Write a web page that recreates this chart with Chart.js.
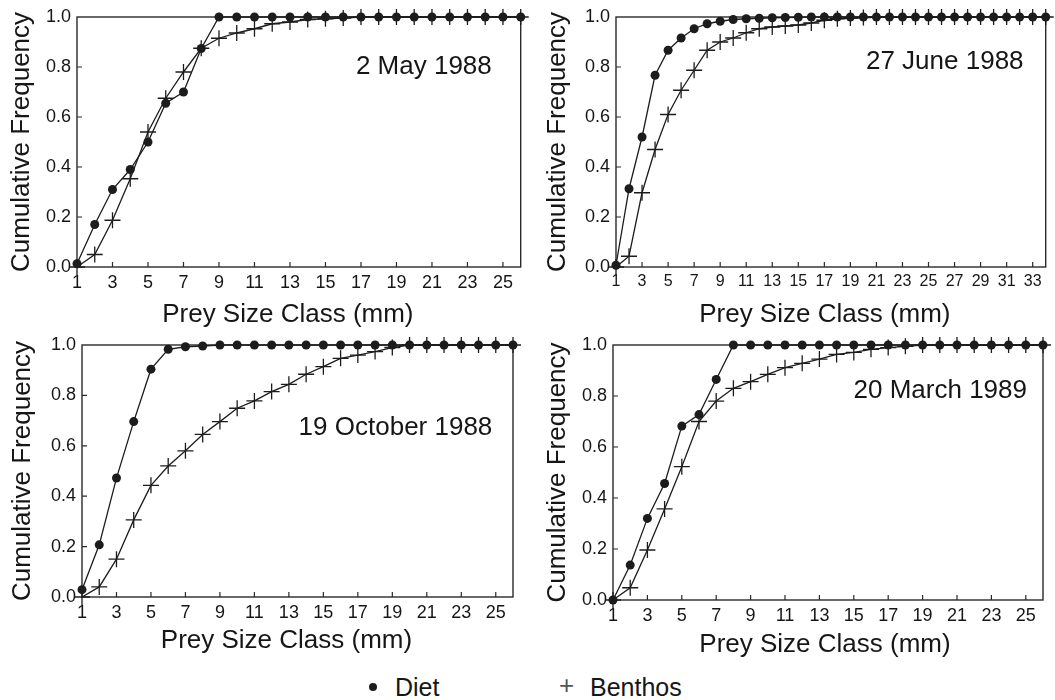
<!DOCTYPE html>
<html>
<head>
<meta charset="utf-8">
<script src="https://cdn.jsdelivr.net/npm/chart.js@4.4.0/dist/chart.umd.min.js"></script>
<style>
  html, body { margin: 0; padding: 0; background: #fff; overflow: hidden; }
  body { width: 1055px; height: 700px; position: relative; font-family: "Liberation Sans", Arial, sans-serif; color: #161616; }
  canvas { position: absolute; }
  .legend { position: absolute; top: 672px; font-size: 25px; line-height: 30px; white-space: nowrap; }
  .dot { position: absolute; width: 8px; height: 8px; border-radius: 50%; background: #1c1c1c; top: 11px; }
  .plus { position: absolute; font-size: 26px; font-weight: 300; color: #555; top: -2px; }
</style>
</head>
<body>
<canvas id="may88" width="530" height="330" style="left:0;top:0"></canvas>
<canvas id="jun88" width="515" height="330" style="left:540px;top:0"></canvas>
<canvas id="oct88" width="530" height="340" style="left:0;top:320px"></canvas>
<canvas id="mar89" width="515" height="340" style="left:540px;top:320px"></canvas>

<div class="legend" style="left:369px"><span class="dot" style="left:0"></span><span style="margin-left:26px">Diet</span></div>
<div class="legend" style="left:559px"><span class="plus" style="left:0">+</span><span style="margin-left:31px">Benthos</span></div>

<script>
// --- dados ---
const SIZES_26 = [1, 2, 3, 4, 5, 6, 7, 8, 9, 10, 11, 12, 13, 14, 15, 16, 17, 18, 19, 20, 21, 22, 23, 24, 25, 26];
const SIZES_34 = [1, 2, 3, 4, 5, 6, 7, 8, 9, 10, 11, 12, 13, 14, 15, 16, 17, 18, 19, 20, 21, 22, 23, 24, 25, 26, 27, 28, 29, 30, 31, 32, 33, 34];
const X_TICKS_26 = [1, 3, 5, 7, 9, 11, 13, 15, 17, 19, 21, 23, 25];
const X_TICKS_34 = [1, 3, 5, 7, 9, 11, 13, 15, 17, 19, 21, 23, 25, 27, 29, 31, 33];
const Y_TICKS = [0, 0.2, 0.4, 0.6, 0.8, 1.0];

// 2 May 1988
const may88Diet = [0.013, 0.17, 0.31, 0.39, 0.50, 0.655, 0.70, 0.874, 1, 1, 1, 1, 1, 1, 1, 1, 1, 1, 1, 1, 1, 1, 1, 1, 1, 1];
const may88Benthos = [0.0, 0.05, 0.187, 0.353, 0.54, 0.675, 0.78, 0.875, 0.915, 0.936, 0.953, 0.973, 0.98, 0.99, 0.993, 0.996, 1, 1, 1, 1, 1, 1, 1, 1, 1, 1];

// 27 June 1988
const jun88Diet = [0.007, 0.313, 0.52, 0.767, 0.867, 0.916, 0.953, 0.973, 0.983, 0.99, 0.993, 0.995, 0.997, 0.998, 0.999, 1, 1, 1, 1, 1, 1, 1, 1, 1, 1, 1, 1, 1, 1, 1, 1, 1, 1, 1];
const jun88Benthos = [0.0, 0.043, 0.297, 0.47, 0.61, 0.707, 0.787, 0.867, 0.90, 0.916, 0.937, 0.953, 0.96, 0.964, 0.968, 0.976, 0.987, 0.993, 0.996, 0.998, 1, 1, 1, 1, 1, 1, 1, 1, 1, 1, 1, 1, 1, 1];

// 19 October 1988
const oct88Diet = [0.029, 0.207, 0.472, 0.696, 0.904, 0.983, 0.993, 0.996, 1, 1, 1, 1, 1, 1, 1, 1, 1, 1, 1, 1, 1, 1, 1, 1, 1, 1];
const oct88Benthos = [0.0, 0.04, 0.15, 0.306, 0.443, 0.52, 0.58, 0.645, 0.696, 0.749, 0.778, 0.815, 0.844, 0.884, 0.914, 0.947, 0.96, 0.974, 0.99, 1, 1, 1, 1, 1, 1, 1];

// 20 March 1989
const mar89Diet = [0.0, 0.137, 0.32, 0.457, 0.682, 0.727, 0.865, 1, 1, 1, 1, 1, 1, 1, 1, 1, 1, 1, 1, 1, 1, 1, 1, 1, 1, 1];
const mar89Benthos = [0.0, 0.048, 0.196, 0.357, 0.523, 0.70, 0.78, 0.83, 0.856, 0.885, 0.911, 0.928, 0.945, 0.963, 0.971, 0.983, 0.99, 0.995, 1, 1, 1, 1, 1, 1, 1, 1];

const X_TITLE = 'Prey Size Class (mm)';
const Y_TITLE = 'Cumulative Frequency';
const INK = '#1c1c1c';
const TEXT = '#161616';
const FONT = '"Liberation Sans", Arial, sans-serif';

Chart.defaults.font.family = FONT;
Chart.defaults.color = TEXT;

// moldura + ticks para dentro
const framePlugin = {
    id: 'frame',
    beforeDatasetsDraw(chart) {
        const { ctx, chartArea: a, scales: { x, y } } = chart;
        ctx.save();
        ctx.strokeStyle = '#2a2a2a';
        ctx.lineWidth = 1.4;
        ctx.strokeRect(a.left, a.top, a.right - a.left, a.bottom - a.top);
        ctx.lineWidth = 1.2;
        ctx.beginPath();
        x.ticks.forEach(t => {
            if (t.value <= x.min) return;
            const px = x.getPixelForValue(t.value);
            ctx.moveTo(px, a.bottom);
            ctx.lineTo(px, a.bottom - 5);
        });
        y.ticks.forEach(t => {
            if (t.value <= 0 || t.value >= 1) return;
            const py = y.getPixelForValue(t.value);
            ctx.moveTo(a.left, py);
            ctx.lineTo(a.left + 5, py);
        });
        ctx.stroke();
        ctx.restore();
    }
};

// data da amostra dentro do gráfico
const dateLabelPlugin = {
    id: 'dateLabel',
    afterDatasetsDraw(chart, args, opts) {
        const { ctx, scales: { x, y } } = chart;
        ctx.save();
        ctx.font = '26px ' + FONT;
        ctx.fillStyle = TEXT;
        ctx.textAlign = 'right';
        ctx.textBaseline = 'middle';
        ctx.fillText(opts.text, x.getPixelForValue(opts.x), y.getPixelForValue(opts.y));
        ctx.restore();
    }
};

// título do eixo x desenhado à mão (nos painéis da esquerda ele fica um pouco deslocado)
const xTitlePlugin = {
    id: 'xTitle',
    afterDraw(chart, args, opts) {
        const { ctx, chartArea: a } = chart;
        ctx.save();
        ctx.font = '26px ' + FONT;
        ctx.fillStyle = TEXT;
        ctx.textAlign = 'center';
        ctx.textBaseline = 'middle';
        ctx.fillText(X_TITLE, (a.left + a.right) / 2 + opts.shift, a.bottom + opts.drop);
        ctx.restore();
    }
};

function drawPanel(id, o) {
    const pts = vals => o.sizes.map((s, i) => ({ x: s, y: vals[i] }));
    new Chart(document.getElementById(id), {
        type: 'line',
        data: {
            datasets: [{
                label: 'Diet',
                data: pts(o.diet),
                borderColor: INK,
                backgroundColor: INK,
                borderWidth: 1.3,
                pointStyle: 'circle',
                pointRadius: 4.5,
                pointBorderWidth: 0,
                clip: false
            }, {
                label: 'Benthos',
                data: pts(o.benthos),
                borderColor: INK,
                backgroundColor: INK,
                borderWidth: 1.3,
                pointStyle: 'cross',
                pointRadius: 8,
                pointBorderWidth: 1.3,
                clip: false
            }]
        },
        options: {
            responsive: false,
            animation: false,
            layout: { padding: o.pad },
            plugins: {
                legend: { display: false },
                tooltip: { enabled: false },
                dateLabel: o.label,
                xTitle: o.xTitle
            },
            scales: {
                x: {
                    type: 'linear',
                    min: 1,
                    max: o.xMax,
                    afterBuildTicks: s => { s.ticks = o.xTicks.map(v => ({ value: v })); },
                    afterFit: s => { s.height = o.xAxisH; },
                    grid: { display: false, drawTicks: false },
                    border: { display: false },
                    ticks: { font: { size: o.tickSize }, padding: 5, autoSkip: false, maxRotation: 0, color: TEXT },
                    title: { display: false }
                },
                y: {
                    min: 0,
                    max: 1,
                    afterBuildTicks: s => { s.ticks = Y_TICKS.map(v => ({ value: v })); },
                    afterFit: s => { s.width = o.yAxisW; },
                    grid: { display: false, drawTicks: false },
                    border: { display: false },
                    ticks: { font: { size: 18 }, padding: 6, color: TEXT, callback: v => v.toFixed(1) },
                    title: { display: true, text: Y_TITLE, font: { size: 26 }, padding: { top: o.yTitlePad, bottom: 0 }, color: TEXT }
                }
            }
        },
        plugins: [framePlugin, dateLabelPlugin, xTitlePlugin]
    });
}

drawPanel('may88', {
    sizes: SIZES_26, diet: may88Diet, benthos: may88Benthos,
    xMax: 26, xTicks: X_TICKS_26, tickSize: 18,
    pad: { top: 17, right: 9, left: 0, bottom: 0 },
    yAxisW: 77, xAxisH: 63, yTitlePad: 6,
    xTitle: { shift: -11, drop: 48 },
    label: { text: '2 May 1988', x: 24.37, y: 0.8 }
});

drawPanel('jun88', {
    sizes: SIZES_34, diet: jun88Diet, benthos: jun88Benthos,
    xMax: 34, xTicks: X_TICKS_34, tickSize: 16,
    pad: { top: 17, right: 2, left: 0, bottom: 0 },
    yAxisW: 76, xAxisH: 63, yTitlePad: 2,
    xTitle: { shift: -6, drop: 48 },
    label: { text: '27 June 1988', x: 32.3, y: 0.82 }
});

drawPanel('oct88', {
    sizes: SIZES_26, diet: oct88Diet, benthos: oct88Benthos,
    xMax: 26, xTicks: X_TICKS_26, tickSize: 18,
    pad: { top: 25, right: 17, left: 0, bottom: 0 },
    yAxisW: 82, xAxisH: 63, yTitlePad: 7,
    xTitle: { shift: -11, drop: 44 },
    label: { text: '19 October 1988', x: 24.8, y: 0.67 }
});

drawPanel('mar89', {
    sizes: SIZES_26, diet: mar89Diet, benthos: mar89Benthos,
    xMax: 26, xTicks: X_TICKS_26, tickSize: 18,
    pad: { top: 25, right: 12, left: 0, bottom: 0 },
    yAxisW: 73, xAxisH: 60, yTitlePad: 2,
    xTitle: { shift: -3, drop: 45 },
    label: { text: '20 March 1989', x: 25.07, y: 0.82 }
});
</script>
</body>
</html>
